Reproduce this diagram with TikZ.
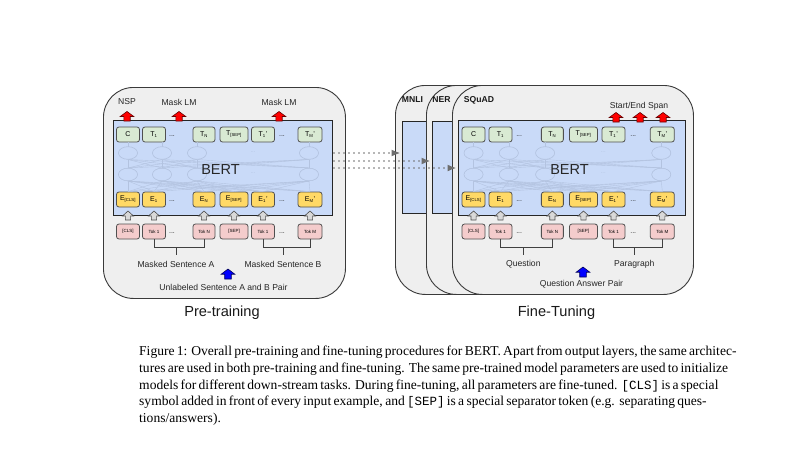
\documentclass[tikz,border=0pt]{standalone}
\usepackage{fontspec}
\setmainfont{Liberation Sans}
\setmonofont{Liberation Mono}
\newfontfamily\capfont{Liberation Serif}
\usetikzlibrary{arrows.meta,shapes.geometric}

\definecolor{panelfill}{HTML}{EFEFEF}
\definecolor{panelline}{HTML}{3A3A3A}
\definecolor{bertblue}{HTML}{C9DAF8}
\definecolor{netline}{HTML}{B3C3E0}
\definecolor{tfill}{HTML}{D9EAD3}
\definecolor{efill}{HTML}{FFD966}
\definecolor{kfill}{HTML}{F4CCCC}
\definecolor{boxline}{HTML}{505050}
\definecolor{arrowgray}{HTML}{D9D9D9}
\definecolor{dotgray}{HTML}{6E6E6E}

\newcommand\lowsub[1]{\textsubscript{\fontsize{4.3}{4.3}\selectfont #1}}

\tikzset{
  panel/.style={draw=panelline, fill=panelfill, line width=0.9pt, rounded corners=30pt,
    anchor=north west, inner sep=0},
  bluebox/.style={draw=black!85, fill=bertblue, line width=0.9pt, anchor=north west, inner sep=0},
  tokbase/.style={draw=boxline, line width=0.8pt, rounded corners=2.5pt, minimum height=15pt,
    inner sep=0, font=\fontsize{7}{8}\selectfont},
  tbox/.style={tokbase, fill=tfill},
  ebox/.style={tokbase, fill=efill},
  kbox/.style={tokbase, fill=kfill, font=\fontsize{4.5}{5}\selectfont},
  hid/.style={ellipse, draw=netline, fill=bertblue, line width=0.5pt, minimum width=19pt,
    minimum height=12.5pt, inner sep=0},
  netline/.style={draw=netline, line width=0.4pt},
  netdots/.style={text=netline, font=\fontsize{6}{6}\selectfont, inner sep=0},
  rowdots/.style={font=\fontsize{7}{7}\selectfont, inner sep=0, text=black!85},
  bracket/.style={draw=black!75, line width=0.8pt},
  lbl/.style={font=\fontsize{8.6}{10}\selectfont, inner sep=0, text=black!85},
  tasklbl/.style={font=\bfseries\fontsize{8.6}{10}\selectfont, inner sep=0, text=black!90},
  bertname/.style={font=\fontsize{14.5}{16}\selectfont, inner sep=0, text=black!85},
  stage/.style={font=\fontsize{14.6}{16}\selectfont, inner sep=0, text=black!90},
  dotarrow/.style={draw=dotgray, line width=1.7pt, line cap=round, dash pattern=on 0pt off 5pt,
    -{Latex[length=9pt,width=7pt]}, shorten >=1.5pt},
  capline/.style={anchor=base west, inner sep=0, font=\capfont\fontsize{13.56}{16.8}\selectfont},
  graytri/.pic={\path[fill=arrowgray, draw=black!70, line width=0.6pt]
    (-2.6,0) -- (-2.6,-4) -- (-5.5,-4) -- (0,-9) -- (5.5,-4) -- (2.6,-4) -- (2.6,0) -- cycle;},
  redtri/.pic={\path[fill=red, draw=red!40!black, line width=0.6pt]
    (-3.2,0) -- (-3.2,-4.5) -- (-6.8,-4.5) -- (0,-9.5) -- (6.8,-4.5) -- (3.2,-4.5) -- (3.2,0) -- cycle;},
  bluetri/.pic={\path[fill=blue, draw=blue!35!black, line width=0.6pt]
    (-3.3,0) -- (-3.3,-4.8) -- (-6.8,-4.8) -- (0,-10) -- (6.8,-4.8) -- (3.3,-4.8) -- (3.3,0) -- cycle;},
}

% One BERT block: #1 name prefix, #2 left edge, #3 horizontal stretch,
% #4 and #5 the two segment labels under the input tokens
\newcommand\bertcore[5]{%
\begin{scope}[shift={(#2,0)}, xscale=#3]
  \node[bluebox, minimum width={219*#3}, minimum height=95] (#1box) at (0,120) {};
  \foreach \cx/\cw/\txtT/\txtE/\txtK [count=\n] in {
      15/23/C/{E\lowsub{[CLS]}}/{[CLS]},
      41/23/{T\lowsub{1}}/{E\lowsub{1}}/{Tok 1},
      91/22/{T\lowsub{N}}/{E\lowsub{N}}/{Tok N},
      121/28/{T\lowsub{[SEP]}}/{E\lowsub{[SEP]}}/{[SEP]},
      150/23/{T\lowsub{1}’}/{E\lowsub{1}’}/{Tok 1},
      197/24/{T\lowsub{M}’}/{E\lowsub{M}’}/{Tok M}} {
    \node[tbox, minimum width=\cw] (#1t\n) at (\cx,134.5) {\txtT};
    \node[ebox, minimum width=\cw] (#1e\n) at (\cx,199.5) {\txtE};
    \node[kbox, minimum width=\cw] (#1k\n) at (\cx,231.5) {\txtK};
    \pic at (\cx,220) {graytri};
  }
  % faint hidden layers of the encoder
  \foreach \hx [count=\i] in {15,49,84,196} {
    \node[hid] (#1ha\i) at (\hx,153) {};
    \node[hid] (#1hb\i) at (\hx,174.5) {};
  }
  \foreach \i in {1,...,4} {
    \draw[netline] (#1ha\i.north) -- (#1ha\i.north |- #1t1.south);
    \foreach \j in {1,...,4} {\draw[netline] (#1ha\i.south) -- (#1hb\j.north);}
    \foreach \k in {1,...,6} {\draw[netline] (#1hb\i.south) -- (#1e\k.north);}
  }
  \foreach \i in {1,...,4} {
    \node[hid] at (#1ha\i) {};
    \node[hid] at (#1hb\i) {};
  }
  \node[netdots] (#1da) at (140,152) {...};
  \node[netdots] (#1db) at (140,173.5) {...};
  \node[bertname] (#1name) at (107.5,170) {BERT};
  % ellipses between the token boxes
  \foreach \dx in {59,169} {
    \node[rowdots] at (\dx,136) {...};
    \node[rowdots] at (\dx,201) {...};
    \node[rowdots] at (\dx,233) {...};
  }
  % segment brackets
  \draw[bracket] (#1k2.south) -- ++(0,8) -| (#1k3.south);
  \draw[bracket] (#1k5.south) -- ++(0,8) -| (#1k6.south);
  \coordinate (#1sa) at (63,247);
  \coordinate (#1sb) at (170,247);
  \draw[bracket] (#1sa) -- ++(0,8);
  \draw[bracket] (#1sb) -- ++(0,8);
  \node[lbl] (#1la) at (63,264) {#4};
  \node[lbl] (#1lb) at (170,264) {#5};
\end{scope}}

\begin{document}
\begin{tikzpicture}[x=1pt,y=-1pt]
\fill[white] (0,0) rectangle (792,450);
\useasboundingbox (0,0) rectangle (792,450);

% ---------- pre-training ----------
\node[panel, minimum width=242, minimum height=211] (pre) at (103,87) {};
\bertcore{pt}{113}{1}{Masked Sentence A}{Masked Sentence B}
\pic at (127,121) {redtri};
\pic at (179,121) {redtri};
\pic at (279,121) {redtri};
\node[lbl] (nsp) at (127,102) {NSP};
\node[lbl] (mlma) at (179,102) {Mask LM};
\node[lbl] (mlmb) at (279,102) {Mask LM};
\pic at (228,279) {bluetri};
\node[lbl] (ptin) at (223.5,287.5) {Unlabeled Sentence A and B Pair};
\node[stage] (ptname) at (222,313) {Pre-training};

% ---------- fine-tuning ----------
\node[panel, minimum width=245, minimum height=209] (mnli) at (395,85) {};
\node[bluebox, minimum width=200, minimum height=92] (mnlibox) at (402,121) {};
\node[tasklbl] (mnlilbl) at (412.5,100) {MNLI};
\node[panel, minimum width=240, minimum height=209] (ner) at (426,85) {};
\node[bluebox, minimum width=200, minimum height=92] (nerbox) at (432,121) {};
\node[tasklbl] (nerlbl) at (441.5,100) {NER};
\node[panel, minimum width=241, minimum height=209] (squad) at (452,85) {};
\node[tasklbl] (squadlbl) at (479,100) {SQuAD};
\bertcore{ft}{458}{1.037}{Question}{Paragraph}
\pic at (616,122) {redtri};
\pic at (640,122) {redtri};
\pic at (663,122) {redtri};
\node[lbl] (span) at (639,106) {Start/End Span};
\pic at (583,277) {bluetri};
\node[lbl] (ftin) at (581.5,284.5) {Question Answer Pair};
\node[stage] (ftname) at (556.5,313) {Fine-Tuning};

% ---------- weight transfer ----------
\coordinate (d1) at (334,153);
\coordinate (d2) at (334,161);
\coordinate (d3) at (334,168);
\draw[dotarrow] (d1) -- (d1 -| mnlibox.west);
\draw[dotarrow] (d2) -- (d2 -| nerbox.west);
\draw[dotarrow] (d3) -- (d3 -| ftbox.west);

% ---------- caption ----------
\node[capline] (cap1) at (139,355.5) {\makebox[561pt][s]{Figure 1: Overall pre-training and fine-tuning procedures for BERT. Apart from output layers, the same architec-}};
\node[capline] (cap2) at (139,372.3) {\makebox[561pt][s]{tures are used in both pre-training and fine-tuning. The same pre-trained model parameters are used to initialize}};
\node[capline] (cap3) at (139,389.1) {\makebox[561pt][s]{models for different down-stream tasks. During fine-tuning, all parameters are fine-tuned. {\fontsize{12.5}{16.8}\selectfont\texttt{[CLS]}} is a special}};
\node[capline] (cap4) at (139,405.9) {\makebox[561pt][s]{symbol added in front of every input example, and {\fontsize{12.5}{16.8}\selectfont\texttt{[SEP]}} is a special separator token (e.g.\ \ separating ques-}};
\node[capline] (cap5) at (139,422.7) {tions/answers).};
\end{tikzpicture}
\end{document}
